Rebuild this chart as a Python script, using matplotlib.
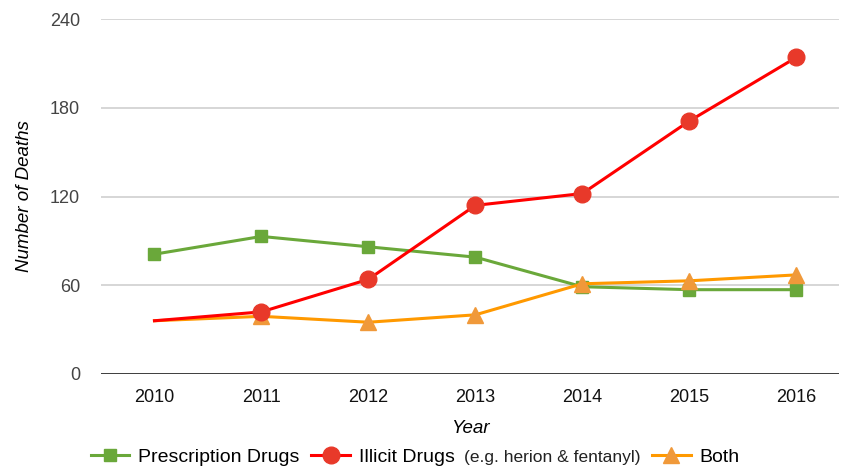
import matplotlib.pyplot as plt
from matplotlib.offsetbox import TextArea

# data
years = ['2010', '2011', '2012', '2013', '2014', '2015', '2016']
prescription = [81, 93, 86, 79, 59, 57, 57]
illicit = [36, 42, 64, 114, 122, 171, 214]
both = [36, 39, 35, 40, 61, 63, 67]
yticks = [0, 60, 120, 180, 240]

plt.rcParams['font.family'] = ['Liberation Sans', 'DejaVu Sans']

fig = plt.figure(figsize=(8.63, 4.67), dpi=100)
ax = fig.add_axes([101 / 863, 93 / 467, 738 / 863, 355 / 467])

x = list(range(len(years)))

ax.plot(x, prescription, color='#6aa83a', lw=2.2, marker='s', ms=8,
        mfc='#6aa83a', mec='#6aa83a', label='Prescription Drugs', zorder=3)
ax.plot(x, both, color='#ff9900', lw=2.2, marker='^', ms=11,
        mfc='#f0993a', mec='#f0993a', markevery=list(range(1, len(x))),
        label='Both', zorder=4)
ax.plot(x, illicit, color='#ff0000', lw=2.2, marker='o', ms=12,
        mfc='#e8392a', mec='#e8392a', markevery=list(range(1, len(x))),
        label='Illicit Drugs', zorder=5)

ax.set_xlim(-0.5, 6.4)
ax.set_ylim(0, 240)
ax.set_xticks(x)
ax.set_xticklabels(years)
ax.set_yticks(yticks)

for s in ax.spines.values():
    s.set_visible(False)
ax.axhline(0, color='#333333', lw=1.3, zorder=2)
ax.grid(axis='y', color='#cccccc', lw=1.1)
ax.set_axisbelow(True)
ax.tick_params(axis='both', length=0, labelsize=13)
ax.tick_params(axis='y', pad=15, labelcolor='#444444')
ax.tick_params(axis='x', pad=11, labelcolor='#111111')

ax.set_xlabel('Year', fontstyle='italic', fontsize=13.5, labelpad=10)
ax.set_ylabel('Number of Deaths', fontstyle='italic', fontsize=13.5, labelpad=12)

h, l = ax.get_legend_handles_labels()
order = [0, 2, 1]
leg = fig.legend([h[i] for i in order], [l[i] for i in order], loc='center',
                 bbox_to_anchor=(415 / 863, 1 - 457 / 467), ncol=3, frameon=False,
                 fontsize=14, handlelength=2.0, handletextpad=0.45, columnspacing=0.6)

# smaller parenthetical after "Illicit Drugs"
for col in leg._legend_handle_box.get_children():
    for row in col.get_children():
        kids = row.get_children()
        if isinstance(kids[-1], TextArea) and kids[-1].get_text() == 'Illicit Drugs':
            extra = TextArea('(e.g. herion & fentanyl)',
                             textprops=dict(size=12.5, color='#222222'))
            extra.set_figure(fig)
            row._children.append(extra)

fig.savefig('out.png', dpi=100)
